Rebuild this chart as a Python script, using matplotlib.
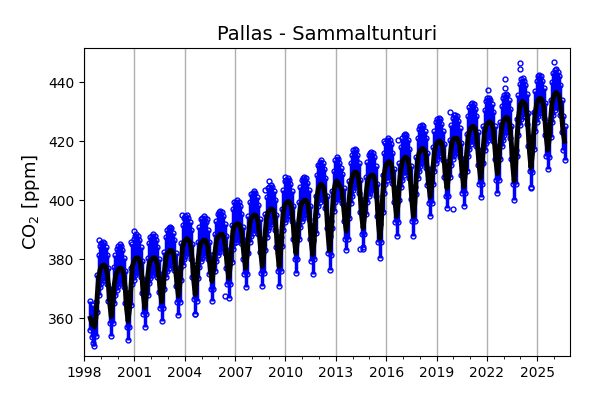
import numpy as np
import matplotlib
matplotlib.use("Agg")
import matplotlib.pyplot as plt
from matplotlib.ticker import MultipleLocator

# monthly mean CO2 (ppm); May 1998 .. Aug 2026
monthly_mean = [
    360, 358.5, 357.5, 357, 360, 368, 374, 376.5,                                # 1998 (May-Dec)
    377.5, 378, 378, 377.5, 375.5, 371, 364.5, 360.5, 364.5, 371, 374, 375.5,    # 1999
    376.5, 377, 377, 376.5, 374.5, 370, 363, 359, 363, 370.5, 377.5, 379,        # 2000
    380, 380.5, 380.5, 380, 378, 373.5, 367.5, 363.5, 367.5, 374, 378, 379.5,    # 2001
    380, 380.5, 380.5, 380, 378, 374, 369.5, 365.5, 369.5, 376, 380, 382,        # 2002
    382.5, 383, 383, 382.5, 380.5, 376, 371.5, 367.5, 371.5, 379, 384, 386,      # 2003
    386.5, 387, 386.5, 386, 384, 379, 372.5, 368, 372, 379.5, 383.5, 385.5,      # 2004
    386, 386.5, 386.5, 386, 384, 380, 376, 372.5, 376, 382, 385.5, 387.5,        # 2005
    388, 388.5, 388.5, 388, 386, 382, 377.5, 373.5, 377.5, 385, 389.5, 391.5,    # 2006
    391.5, 392, 392, 391.5, 389.5, 385, 381, 377, 381, 388, 392, 394,            # 2007
    394.5, 395, 395, 394.5, 392.5, 387.5, 381.5, 377.5, 381.5, 389, 393.5, 396,  # 2008
    396.5, 397, 397, 396.5, 394, 389, 382, 377.5, 382, 390.5, 396, 398.5,        # 2009
    399, 399.5, 399.5, 399, 397, 392, 386, 382, 386, 393, 397, 399,              # 2010
    399.5, 400, 400, 399.5, 397.5, 392, 385.5, 381.5, 386, 395, 401, 404,        # 2011
    405, 405.5, 405, 404, 401.5, 395.5, 388, 383, 387.5, 396.5, 402.5, 405.5,    # 2012
    406.5, 406, 405, 404.5, 403, 398, 393, 389.5, 393, 400, 405, 407.5,          # 2013
    409, 409.5, 409.5, 409, 406.5, 401, 394.5, 390.5, 394.5, 401.5, 405.5, 407.5,  # 2014
    408, 408.5, 408.5, 408, 405.5, 399.5, 392, 387, 392, 402, 408.5, 411.5,      # 2015
    412.5, 413, 413, 412.5, 410, 404.5, 398.5, 394.5, 398.5, 406, 410.5, 413,    # 2016
    414, 414.5, 414.5, 414, 411.5, 405.5, 399, 394.5, 399, 408, 413.5, 416,      # 2017
    417, 417.5, 417.5, 417, 415, 410, 405, 401, 405, 411.5, 416, 418.5,          # 2018
    419.5, 420, 420, 419.5, 417.5, 413, 407.5, 404, 407.5, 414, 418, 420,        # 2019
    421, 421, 421, 420.5, 418.5, 413.5, 408.5, 404.5, 408.5, 416, 421, 423.5,    # 2020
    424.5, 425, 425, 424.5, 422.5, 417, 411.5, 407.5, 411.5, 418.5, 423, 425.5,  # 2021
    426, 426.5, 426.5, 426, 424, 419, 413, 409, 413, 420, 424.5, 426.5,          # 2022
    427.5, 428, 428, 427.5, 425, 419, 411.5, 406.5, 411.5, 421, 428, 431.5,      # 2023
    433, 433.5, 433, 432.5, 430, 423.5, 416, 411, 415.5, 423.5, 429.5, 432.5,    # 2024
    434, 434.5, 434.5, 434, 432, 427, 421, 417, 420.5, 427.5, 432.5, 435,        # 2025
    436, 436.5, 436, 435.5, 433, 428, 423, 420,                                  # 2026 (Jan-Aug)
]
first_month = 5  # May 1998
first_year = 1998

# typical spread of the hourly values around the monthly mean, Jan..Dec (ppm)
spread_up = [8, 8, 7.5, 6.5, 6, 6, 5.5, 5, 5.5, 6.5, 7.5, 8]
spread_down = [5.5, 5, 4.5, 4, 4, 5, 6, 6.5, 6, 6, 6, 6]

# isolated hourly values standing out of the band
outlier_year = [1998.9, 2001.0, 2000.8, 2003.85, 2004.6, 2005.3, 2006.4, 2008.8,
                2009.0, 2010.0, 2012.0, 2014.2, 2014.45, 2014.6, 2015.9, 2016.7,
                2017.2, 2019.8, 2020.0, 2022.05, 2022.0, 2023.1, 2023.1, 2023.95,
                2023.95, 2024.6, 2025.1, 2026.0, 2026.05]
outlier_ppm = [386.5, 389.5, 386, 395, 361.5, 393.5, 367.5, 403.5,
               406.5, 408, 411.5, 413.5, 383.5, 383.5, 420, 420.5,
               420, 430, 397, 437.5, 434.5, 441, 438, 446.5,
               444.5, 404, 441, 447, 443]

n = len(monthly_mean)
month_idx = np.arange(n) + first_month - 1
t = first_year + (month_idx + 0.5) / 12.0
moy = month_idx % 12
mean = np.array(monthly_mean)
hi = mean + np.array(spread_up)[moy]
lo = mean - np.array(spread_down)[moy]

fig = plt.figure(figsize=(6, 4), dpi=100)
ax = fig.add_axes([0.14, 0.11, 0.81, 0.77])

# hourly values: dense band of blue open circles
ax.fill_between(t, lo, hi, color="blue", lw=0, zorder=2)
ax.vlines(t, lo, hi, color="blue", lw=2.5, zorder=2)
ms = dict(ls="none", marker="o", ms=3.5, mfc="none", mec="blue", mew=1, zorder=2)
ax.plot(t, hi, **ms)
ax.plot(t, lo, **ms)
ax.plot(outlier_year, outlier_ppm, **ms)
# daily means
ax.plot(t, mean, color="k", lw=3.5, zorder=3)

ax.set_xlim(1998, 2026.95)
ax.set_ylim(347.2, 451.6)
ax.xaxis.set_major_locator(MultipleLocator(3))
ax.xaxis.set_minor_locator(MultipleLocator(1))
ax.yaxis.set_major_locator(MultipleLocator(20))
ax.xaxis.set_major_formatter(matplotlib.ticker.FuncFormatter(lambda v, p: f"{int(round(v))}"))
ax.grid(True, axis="x", which="major", color="#b0b0b0", lw=1, zorder=0)
ax.set_axisbelow(True)
ax.tick_params(labelsize=10)

ax.set_title("Pallas - Sammaltunturi", fontsize=14)
ax.set_ylabel("CO$_2$ [ppm]", fontsize=13)

fig.savefig("out.png", dpi=100)
